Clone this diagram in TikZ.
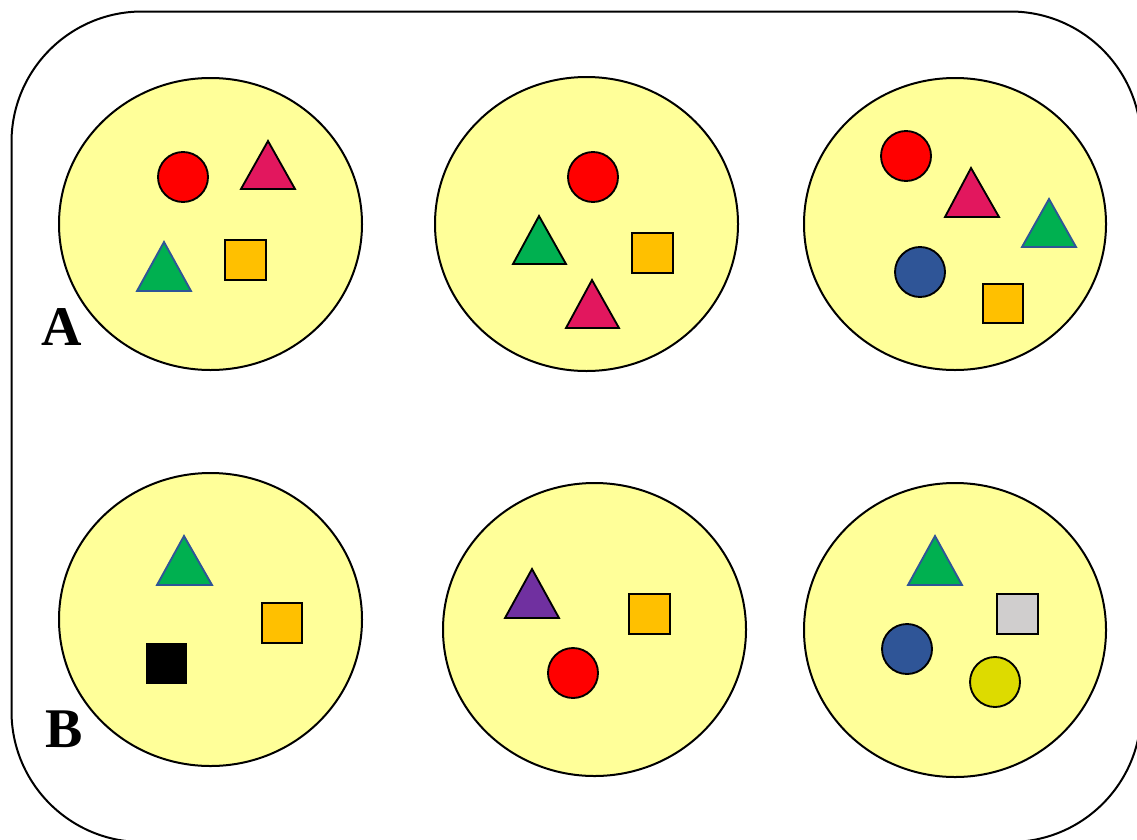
\documentclass[tikz,border=0pt]{standalone}
\usepackage{fontspec}
\setmainfont{Liberation Serif}
\definecolor{bag}{HTML}{FFFF99}
\definecolor{cred}{HTML}{FF0000}
\definecolor{ccrim}{HTML}{E2175E}
\definecolor{cgreen}{HTML}{00B050}
\definecolor{corange}{HTML}{FFC000}
\definecolor{cblue}{HTML}{2F5597}
\definecolor{cpurple}{HTML}{7030A0}
\definecolor{cgray}{HTML}{D0CECE}
\definecolor{cyel}{HTML}{DDDB00}
\tikzset{
  bagshape/.style={draw=black, fill=bag, line width=1.5pt},
  item/.style={draw=black, line width=1.4pt, line join=miter},
  bitem/.style={draw=cblue, line width=1.4pt, line join=miter},
  lab/.style={font=\bfseries\fontsize{42}{42}\selectfont, inner sep=0pt}
}
\begin{document}
\begin{tikzpicture}[x=0.75pt, y=-0.75pt]
\useasboundingbox (0,0) rectangle (1137,839);
% outer frame
\draw[line width=1.5pt, rounded corners=98pt] (11.5,11.5) rectangle (1141,842);
% bags
\draw[bagshape] (210.5,224) ellipse [x radius=151.5, y radius=146];
\draw[bagshape] (586.5,224) ellipse [x radius=151.5, y radius=147];
\draw[bagshape] (955,224) ellipse [x radius=151, y radius=146];
\draw[bagshape] (210.5,619.5) ellipse [x radius=151.5, y radius=146.5];
\draw[bagshape] (594.5,629.5) ellipse [x radius=151.5, y radius=146.5];
\draw[bagshape] (955,630) ellipse [x radius=151, y radius=147];
% A1
\draw[item, fill=cred] (183,177) circle [radius=25];
\draw[item, fill=ccrim] (268,141) -- (295,189) -- (241,189) -- cycle;
\draw[bitem, fill=cgreen] (164,242) -- (191,291) -- (137,291) -- cycle;
\draw[item, fill=corange] (225,240) rectangle (266,280);
% A2
\draw[item, fill=cred] (593,177) circle [radius=25];
\draw[item, fill=cgreen] (539,216) -- (566,264) -- (513,264) -- cycle;
\draw[item, fill=corange] (632,233) rectangle (673,273);
\draw[item, fill=ccrim] (592,280) -- (619,328) -- (566,328) -- cycle;
% A3
\draw[item, fill=cred] (906,156) circle [radius=25];
\draw[item, fill=ccrim] (971,168) -- (999,217) -- (945,217) -- cycle;
\draw[bitem, fill=cgreen] (1049,199) -- (1076,247) -- (1022,247) -- cycle;
\draw[item, fill=cblue] (920,272) circle [radius=25];
\draw[item, fill=corange] (983,284) rectangle (1023,323);
% B1
\draw[bitem, fill=cgreen] (184,536) -- (212,585) -- (157,585) -- cycle;
\draw[item, fill=corange] (262,603) rectangle (302,643);
\fill[black] (146,643) rectangle (187,684);
% B2
\draw[item, fill=cpurple] (532,569) -- (559,618) -- (505,618) -- cycle;
\draw[item, fill=corange] (629,594) rectangle (670,634);
\draw[item, fill=cred] (573,673) circle [radius=25];
% B3
\draw[bitem, fill=cgreen] (935,536) -- (962,585) -- (908,585) -- cycle;
\draw[item, fill=cgray] (997,594) rectangle (1038,634);
\draw[item, fill=cblue] (907,649) circle [radius=25];
\draw[item, fill=cyel] (995,682) circle [radius=25];
% labels
\node[lab, anchor=base] (la) at (62,345) {A};
\node[lab, anchor=base] (lb) at (64.5,747) {B};
\end{tikzpicture}
\end{document}
